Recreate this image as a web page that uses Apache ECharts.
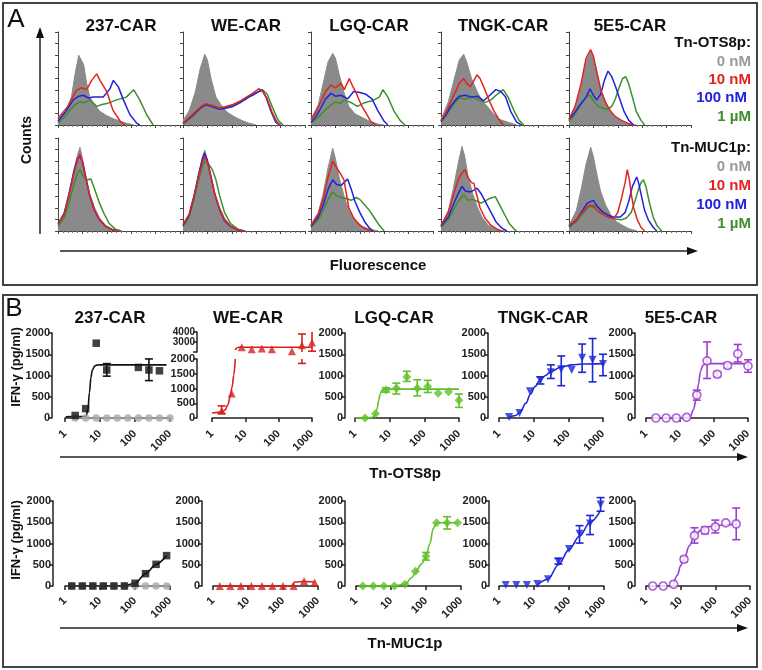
<!DOCTYPE html>
<html><head><meta charset="utf-8">
<script src="https://cdn.jsdelivr.net/npm/echarts@6/dist/echarts.min.js"></script>
<style>html,body{margin:0;padding:0;background:#fff}#c{width:762px;height:670px}</style>
</head><body><div id="c"></div>
<script>
// ---------- Panel A: flow histograms (x: % of axis width, y: % of axis height) ----------
const carNames = ['237-CAR','WE-CAR','LGQ-CAR','TNGK-CAR','5E5-CAR'];
const legendLabels = ['0 nM','10 nM','100 nM','1 µM'];
// each list: [0 nM (gray fill), 10 nM, 100 nM, 1 µM]
const histOTS_237 = [
 [[0,5],[7,16],[11,30],[14,55],[17,75],[18,76],[21,65],[23.5,45],[26,30],[30,22],[34,15],[40,10],[45,7],[51,4],[56,2],[62,0]],
 [[0,7],[8,20],[12,30],[15,37],[19,40],[23.5,38],[27.6,48],[31.7,55],[34.4,48],[40,36],[45,16],[51,4],[55,0]],
 [[0,4],[6,14],[12.6,27],[17,31],[20.8,32],[25,29],[29,30],[37,30],[42.6,39],[45.4,48],[49.5,41],[53.6,27],[59,11],[64.5,2],[67,0]],
 [[0,2],[5,8],[9.8,16],[14,22],[18,25],[22,24],[26,27],[31.7,20],[36,22],[40,23],[48,27],[56,30],[62,38],[67,27],[72.7,11],[78,0]]
];
const histOTS_WE = [
 [[0,5],[5,15],[10,35],[14,60],[17.8,76],[20,70],[23,50],[27,30],[31,22],[36,14],[42,9],[48,5],[54,2],[60,0]],
 [[0,2],[5,8],[10,14],[15,20],[19,23],[25,20],[30,18],[35,20],[41,22],[47,26],[52,30],[57,34],[62,39],[65,37],[69,28],[73,14],[77,3],[80,0]],
 [[0,2],[5,7],[10,13],[15,19],[19,22],[25,19],[30,17],[35,18],[41,20],[47,24],[52,29],[57,32],[62,36],[65,37],[68,30],[72,15],[76,3],[79,0]],
 [[0,1],[5,6],[10,12],[15,19],[19,22],[25,21],[30,18],[35,19],[41,21],[47,25],[52,28],[57,33],[62,36],[65,38],[69,33],[73,20],[78,5],[82,0]]
];
const histOTS_LGQ = [
 [[0,6],[6,22],[10,45],[14,68],[17.8,77],[20,72],[23,55],[27,35],[31,20],[36,12],[42,8],[48,4],[55,1],[60,0]],
 [[0,6],[4,14],[8,25],[12,36],[16.4,43],[20,40],[24.6,45],[27.3,38],[31.4,50],[34,42],[36.9,35],[41,22],[45,13],[49,4],[53,0]],
 [[0,3],[4,9],[8,18],[12,28],[16.4,34],[20,31],[24.6,32],[30,28],[35,36],[40,35],[45,33],[50,28],[55,15],[60,4],[63,0]],
 [[0,2],[5,7],[10,14],[15,20],[20,25],[24,23],[27,27],[33,24],[38,20],[44,24],[50,26],[56,30],[59,38],[63,30],[68,15],[73,5],[77,0]]
];
const histOTS_TNGK = [
 [[0,6],[6,25],[11,50],[15,70],[18.6,76],[21,68],[25,50],[30,35],[34,25],[38,20],[43,12],[48,6],[55,3],[62,0]],
 [[0,5],[4,13],[8,25],[12,36],[15,45],[18.6,50],[21,45],[24,41],[27,48],[29.5,54],[32,50],[35,41],[39,28],[43,16],[47,7],[51,0]],
 [[0,4],[4,11],[8,20],[12,27],[15,31],[20,32],[25,30],[30,31],[35,26],[40,32],[45,38],[49,36],[53,30],[57,15],[62,3],[66,0]],
 [[0,3],[4,10],[8,18],[12,25],[15,29],[20,28],[26,30],[31,27],[36,24],[41,27],[46,33],[51,38],[55,30],[60,15],[64,5],[68,0]]
];
const histOTS_5E5 = [
 [[0,5],[5,18],[10,42],[14,68],[17.8,79],[20,72],[23,55],[26,38],[30,25],[34,14],[38,8],[43,4],[50,1],[55,0]],
 [[0,6],[5,20],[10,45],[14,72],[17.8,81],[20,74],[23,56],[26,38],[30,24],[34,15],[38,9],[43,5],[48,2],[52,0]],
 [[0,6],[4,12],[8,20],[11,25],[14,30],[17.2,39],[20,32],[22.7,27],[26,33],[29,48],[32,58],[35,52],[38,42],[41,30],[45,15],[49,5],[53,0]],
 [[0,4],[4,10],[8,18],[11,24],[14,30],[17.2,32],[20,26],[24,20],[28,18],[32,17],[35,20],[38,28],[41,40],[44,50],[46.5,52],[49,44],[52,30],[55,15],[59,5],[62,0]]
];
const histMUC_237 = [
 [[0,6],[5,18],[9,40],[13,65],[16,82],[18,90],[20,78],[23,58],[26,40],[30,25],[34,14],[39,6],[45,2],[52,0]],
 [[0,7],[5,18],[9,38],[13,62],[16,76],[18,83],[20,74],[23,55],[26,38],[30,22],[34,12],[39,5],[45,1],[50,0]],
 [[0,8],[5,19],[9,40],[13,64],[16,78],[18,80],[20,75],[23,56],[26,38],[30,22],[34,12],[39,5],[45,1],[50,0]],
 [[0,5],[5,14],[9,30],[13,50],[16,62],[18,66],[21,58],[24,55],[27,56],[30,45],[34,30],[38,18],[42,8],[47,2],[52,0]]
];
const histMUC_WE = [
 [[0,5],[5,17],[9,38],[13,62],[16,80],[17.8,87],[20,76],[23,58],[26,40],[30,25],[34,14],[39,6],[45,2],[52,0]],
 [[0,7],[5,18],[9,38],[13,60],[16,74],[17.8,80],[20,74],[23,58],[26,40],[30,24],[34,12],[39,5],[45,1],[50,0]],
 [[0,6],[5,17],[9,37],[13,62],[16,78],[17.8,84],[20,76],[23,58],[26,40],[30,23],[34,11],[39,5],[45,1],[50,0]],
 [[0,5],[5,15],[9,34],[13,56],[16,70],[18,75],[21,72],[24,66],[27,55],[30,38],[34,20],[39,8],[45,2],[50,0]]
];
const histMUC_LGQ = [
 [[0,7],[6,20],[10,40],[14,68],[17.8,89],[20,78],[23,58],[27,38],[31,22],[36,12],[42,5],[48,2],[55,0]],
 [[0,6],[6,18],[10,35],[14,58],[17.8,75],[21,68],[24,62],[27,55],[29,40],[31,25],[35,14],[40,6],[45,2],[50,0]],
 [[0,5],[6,15],[10,28],[14,45],[17.8,55],[21,50],[24.6,49],[27,52],[30,56],[33,45],[36,32],[40,20],[44,10],[48,3],[51,0]],
 [[0,4],[6,12],[10,22],[14,34],[17.8,42],[21,38],[25,36],[29,35],[33,33],[37,36],[40,34],[44,28],[48,22],[52,14],[56,6],[60,0]]
];
const histMUC_TNGK = [
 [[0,6],[6,22],[10,45],[14,72],[17.2,91],[19.5,80],[22,60],[26,40],[30,25],[34,14],[39,6],[45,2],[52,0]],
 [[0,6],[6,20],[10,38],[14,55],[17,62],[19.5,66],[22,58],[25,52],[27,51],[29,40],[32,25],[36,14],[41,6],[46,2],[49,0]],
 [[0,5],[6,15],[10,28],[14,40],[17.2,48],[20,43],[24,42],[27,44],[29.5,46],[33,40],[37,30],[41,20],[45,10],[50,3],[54,0]],
 [[0,4],[6,12],[10,22],[14,32],[18.6,39],[22,33],[26,34],[29.5,32],[33,30],[37,33],[40,35],[44.5,37],[48,28],[52,18],[56,8],[60,2],[62,0]]
];
const histMUC_5E5 = [
 [[0,6],[6,22],[10,45],[14,72],[17.8,90],[20,80],[23,60],[26,42],[30,28],[34,18],[39,10],[44,6],[50,2],[56,0]],
 [[0,6],[6,12],[11,20],[15,26],[17.2,28],[21,25],[25,20],[30,16],[34,14],[37,14],[40,20],[43,35],[46,52],[47.8,66],[49.5,55],[51,40],[53,25],[56,12],[59,4],[62,0]],
 [[0,5],[6,12],[11,22],[15,30],[19.9,33],[23,27],[27,21],[32,17],[36,15],[42,15],[46,20],[49,32],[52,48],[55.5,58],[57,52],[59,40],[62,22],[65,12],[69,4],[72,0]],
 [[0,4],[6,10],[11,18],[15,24],[19.9,28],[24,25],[28,20],[33,16],[38,13],[43,12],[47,14],[51,20],[54,32],[57,45],[59,52],[61,55],[63,48],[66,30],[69,15],[72,6],[76,0]]
];

// ---------- Panel B: IFN-γ (pg/ml) vs peptide concentration ----------
const dosesOTS = [1.95,3.9,7.8,15.6,31.25,62.5,125,250,500,1000];
const dosesMUC = [1.56,3.125,6.25,12.5,25,50,100,200,400,800];

const ifnOTS_237 = [60,220,1760,1130,null,null,1190,1130,1110,null];
const loOTS_237  = [null,null,null,985,null,null,null,880,null,null];
const hiOTS_237  = [null,null,null,1280,null,null,null,1390,null,null];
const ctrlOTS_237 = [0,0,0,0,0,0,0,0,0,0];
const fitX_OTS_237 = [1.05,4,4.5,5,5.5,6,7,8,10,800];
const fitY_OTS_237 = [30,40,200,600,950,1120,1220,1245,1250,1250];

const ifnOTS_WE = [250,830,2480,2280,2360,2280,null,2080,2680,2960];
const loOTS_WE  = [150,null,null,null,null,null,null,null,1850,2080];
const hiOTS_WE  = [410,null,null,null,null,null,null,null,3800,4080];
const fitX_OTS_WE_low = [1,2,2.5,3,3.5,4,4.5,5];
const fitY_OTS_WE_low = [170,200,280,450,720,1050,1450,2000];
const fitX_OTS_WE_up = [5,5.5,6.5,1000];
const fitY_OTS_WE_up = [2200,2400,2480,2480];

const ifnOTS_LGQ = [0,100,660,700,965,700,740,580,620,420];
const loOTS_LGQ  = [null,null,610,565,860,520,600,null,null,250];
const hiOTS_LGQ  = [null,null,710,820,1100,900,885,null,null,565];
const fitX_OTS_LGQ = [1,3,3.8,4.3,4.8,5.3,6,7,1000];
const fitY_OTS_LGQ = [0,10,60,200,400,560,650,680,680];

const ifnOTS_TNGK = [25,120,630,890,1075,1150,1130,1420,1370,1270];
const loOTS_TNGK  = [null,null,null,800,930,760,null,1075,850,995];
const hiOTS_TNGK  = [null,null,null,970,1250,1460,null,1740,1870,1500];
const fitX_OTS_TNGK = [1.95,3,4,6,8,11,15,22,31,62,125,250,1000];
const fitY_OTS_TNGK = [10,60,130,350,560,740,890,1000,1090,1200,1250,1270,1280];

const ifnOTS_5E5 = [0,0,0,15,540,1345,1030,1235,1510,1225];
const loOTS_5E5  = [null,null,null,null,420,930,970,1170,1320,1075];
const hiOTS_5E5  = [null,null,null,null,655,1790,1090,1290,1730,1370];
const fitX_OTS_5E5 = [1.92,15,20,25,30,35,40,47,60,1000];
const fitY_OTS_5E5 = [0,5,30,200,450,800,1100,1240,1280,1280];

const ifnMUC_237 = [0,0,0,0,0,0,65,290,510,715];
const ctrlMUC_237 = [0,0,0,0,0,0,0,0,0,0];

const ifnMUC_WE = [0,0,0,0,0,0,0,0,115,85];
const fitX_MUC_WE = [1.56,170,220,400,800];
const fitY_MUC_WE = [0,0,95,105,95];

const ifnMUC_LGQ = [0,0,0,0,40,350,700,1490,1490,1490];
const loMUC_LGQ  = [null,null,null,null,null,null,610,null,1340,null];
const hiMUC_LGQ  = [null,null,null,null,null,null,790,null,1630,null];
const fitX_MUC_LGQ = [1.56,12.5,25,40,50,75,100,130,160,200,800];
const fitY_MUC_LGQ = [0,5,40,200,330,520,700,1000,1350,1490,1490];

const ifnMUC_TNGK = [25,25,25,45,160,575,870,1230,1470,1920];
const loMUC_TNGK  = [null,null,null,null,null,515,null,1010,1210,1760];
const hiMUC_TNGK  = [null,null,null,null,null,650,null,1420,1660,2080];
const fitX_MUC_TNGK = [12.5,25,50,100,200,400,800];
const fitY_MUC_TNGK = [25,160,500,855,1170,1500,1780];

const ifnMUC_5E5 = [0,0,40,630,1185,1310,1390,1485,1460,null];
const loMUC_5E5  = [null,null,null,570,1010,1230,1250,null,1090,null];
const hiMUC_5E5  = [null,null,null,690,1370,1390,1550,null,1835,null];
const fitX_MUC_5E5 = [6.25,8,10,12.5,18,25,40,60,100,200,400];
const fitY_MUC_5E5 = [30,250,480,640,950,1180,1320,1390,1420,1440,1450];

// ---------- build ----------
const FONT = '"Liberation Sans", Arial, Helvetica, sans-serif';
const AX = '#222';
const grids = [], xAxes = [], yAxes = [], series = [];
function addGrid(g, xa, ya) {
  grids.push(g); const i = grids.length - 1;
  xa.gridIndex = i; ya.gridIndex = i; xAxes.push(xa); yAxes.push(ya); return i;
}

const histColors = ['#8a8a8a', '#e3231e', '#2121df', '#3d8f2e'];
const histLeft = [58, 183, 311, 441, 569];
const histTop = [32, 138];
function histPanel(col, row, curves) {
  const i = addGrid({left: histLeft[col], top: histTop[row], width: 122, height: 93},
    {type: 'value', min: 0, max: 100, interval: 20,
     axisLine: {lineStyle: {color: '#444', width: 1}},
     axisTick: {show: true, length: 3, lineStyle: {color: '#444'}},
     minorTick: {show: true, splitNumber: 5, length: 2, lineStyle: {color: '#777'}},
     axisLabel: {show: false}, splitLine: {show: false}},
    {type: 'value', min: 0, max: 100, interval: 12.5,
     axisLine: {show: true, lineStyle: {color: '#444', width: 1}},
     axisTick: {show: true, length: 3, lineStyle: {color: '#444'}},
     axisLabel: {show: false}, splitLine: {show: false}});
  [0, 3, 2, 1].forEach((k, n) => {
    series.push({type: 'line', xAxisIndex: i, yAxisIndex: i, data: curves[k], symbol: 'none',
      silent: true, animation: false, z: 2 + n,
      lineStyle: {color: histColors[k], width: k ? 1.5 : 1},
      areaStyle: k === 0 ? {color: '#8a8a8a', opacity: 1} : undefined});
  });
}
const histOTS = [histOTS_237, histOTS_WE, histOTS_LGQ, histOTS_TNGK, histOTS_5E5];
const histMUC = [histMUC_237, histMUC_WE, histMUC_LGQ, histMUC_TNGK, histMUC_5E5];
histOTS.forEach((c, k) => histPanel(k, 0, c));
histMUC.forEach((c, k) => histPanel(k, 1, c));

function doseGrid(xL, xR, top, height, yAxisX, xAxisY, ymin, ymax, interval, opt) {
  opt = opt || {};
  return addGrid({left: xL, top: top, width: xR - xL, height: height},
    {type: 'log', logBase: 10, min: 1, max: 1000, offset: xAxisY - (top + height), show: opt.hideX ? false : true,
     axisLine: {lineStyle: {color: AX, width: 1.5}},
     axisTick: {show: true, length: 4, lineStyle: {color: AX, width: 1.5}},
     minorTick: {show: false},
     axisLabel: {rotate: 45, margin: 4, color: AX, fontWeight: 'bold', fontSize: 11, fontFamily: FONT,
       formatter: v => String(Math.round(v))},
     splitLine: {show: false}, minorSplitLine: {show: false}},
    {type: 'value', min: ymin, max: ymax, interval: interval, offset: xL - yAxisX,
     axisLine: {show: true, lineStyle: {color: AX, width: 1.5}},
     axisTick: {show: true, length: 4, lineStyle: {color: AX, width: 1.5}},
     axisLabel: {margin: 2, color: AX, fontWeight: 'bold', fontSize: opt.labelSize || 11, fontFamily: FONT,
       lineHeight: opt.labelLH || undefined,
       showMaxLabel: true, showMinLabel: true, hideOverlap: false,
       formatter: opt.labelFmt || (v => String(v))},
     splitLine: {show: false}});
}
function pts(xs, ys, pred) {
  const out = [];
  xs.forEach((x, k) => { if (ys[k] != null && (!pred || pred(ys[k]))) out.push([x, ys[k]]); });
  return out;
}
function scatter(i, xs, ys, sym, color, size, extra, pred) {
  const s = Object.assign({type: 'scatter', xAxisIndex: i, yAxisIndex: i, data: pts(xs, ys, pred), symbol: sym,
    symbolSize: size, itemStyle: {color: color}, z: 6, animation: false, silent: true}, extra || {});
  series.push(s);
}
function curve(i, xs, ys, color, smooth) {
  series.push({type: 'line', xAxisIndex: i, yAxisIndex: i, data: pts(xs, ys), symbol: 'none',
    smooth: smooth === undefined ? 0.35 : smooth, smoothMonotone: 'x',
    lineStyle: {color: color, width: 1.6}, z: 5, animation: false, silent: true});
}
function errs(i, xs, lo, hi, color, ymin, ymax) {
  const data = [];
  xs.forEach((x, k) => { if (lo[k] != null) data.push([x, lo[k], hi[k]]); });
  series.push({type: 'custom', xAxisIndex: i, yAxisIndex: i, data: data, z: 4, animation: false, silent: true,
    encode: {x: 0, y: [1, 2]},
    renderItem: function (params, api) {
      const x = api.value(0), l = api.value(1), h = api.value(2);
      const cl = Math.max(l, ymin), ch = Math.min(h, ymax);
      if (ch <= cl) return null;
      const p1 = api.coord([x, cl]), p2 = api.coord([x, ch]);
      const st = {stroke: color, lineWidth: 1.6};
      const ch2 = [{type: 'line', shape: {x1: p1[0], y1: p1[1], x2: p2[0], y2: p2[1]}, style: st}];
      if (l >= ymin) ch2.push({type: 'line', shape: {x1: p1[0] - 4, y1: p1[1], x2: p1[0] + 4, y2: p1[1]}, style: st});
      if (h <= ymax) ch2.push({type: 'line', shape: {x1: p2[0] - 4, y1: p2[1], x2: p2[0] + 4, y2: p2[1]}, style: st});
      return {type: 'group', children: ch2};
    }});
}

const cBlack = '#111', cGray = '#a8a8a8', cRed = '#d8201e', cGreen = '#62c02a', cBlue = '#1c27d6', cPurple = '#9b3fd0';
const openCircle = {itemStyle: {color: '#fff', borderColor: cPurple, borderWidth: 1.7}};
// top row (Tn-OTS8p)
let g;
g = doseGrid(65, 170, 333, 85, 52, 428, 0, 2000, 500);
curve(g, dosesOTS, ctrlOTS_237, cGray, 0);
scatter(g, dosesOTS, ctrlOTS_237, 'circle', cGray, 7.5);
curve(g, fitX_OTS_237, fitY_OTS_237, cBlack);
errs(g, dosesOTS, loOTS_237, hiOTS_237, cBlack, 0, 2000);
scatter(g, dosesOTS, ifnOTS_237, 'rect', cBlack, 7.5);

g = doseGrid(212, 312, 359, 59, 197, 428, 0, 2000, 500);
curve(g, fitX_OTS_WE_low, fitY_OTS_WE_low, cRed);
errs(g, dosesOTS, loOTS_WE, hiOTS_WE, cRed, 0, 2000);
scatter(g, dosesOTS, ifnOTS_WE, 'triangle', cRed, 8, null, v => v < 2000);
g = doseGrid(212, 312, 332, 20, 197, 428, 2000, 4000, 1000, {hideX: true, labelSize: 10, labelLH: 8, labelFmt: v => v === 2000 ? '' : String(v)});
curve(g, fitX_OTS_WE_up, fitY_OTS_WE_up, cRed);
errs(g, dosesOTS, loOTS_WE, hiOTS_WE, cRed, 2000, 4000);
scatter(g, dosesOTS, ifnOTS_WE, 'triangle', cRed, 8, null, v => v >= 2000);

g = doseGrid(355, 459, 333, 85, 345, 428, 0, 2000, 500);
curve(g, fitX_OTS_LGQ, fitY_OTS_LGQ, cGreen);
errs(g, dosesOTS, loOTS_LGQ, hiOTS_LGQ, cGreen, 0, 2000);
scatter(g, dosesOTS, ifnOTS_LGQ, 'diamond', cGreen, 9);

g = doseGrid(499, 603, 333, 85, 488, 428, 0, 2000, 500);
curve(g, fitX_OTS_TNGK, fitY_OTS_TNGK, cBlue);
errs(g, dosesOTS, loOTS_TNGK, hiOTS_TNGK, cBlue, 0, 2000);
scatter(g, dosesOTS, ifnOTS_TNGK, 'triangle', cBlue, 8, {symbolRotate: 180});

g = doseGrid(646, 748, 333, 85, 635, 428, 0, 2000, 500);
curve(g, fitX_OTS_5E5, fitY_OTS_5E5, cPurple);
errs(g, dosesOTS, loOTS_5E5, hiOTS_5E5, cPurple, 0, 2000);
scatter(g, dosesOTS, ifnOTS_5E5, 'circle', '#fff', 8, openCircle);

// bottom row (Tn-MUC1p)
g = doseGrid(65, 170, 501, 85, 53, 595, 0, 2000, 500);
curve(g, dosesMUC, ctrlMUC_237, cGray, 0);
scatter(g, dosesMUC, ctrlMUC_237, 'circle', cGray, 7.5);
curve(g, dosesMUC, ifnMUC_237, cBlack, 0.3);
scatter(g, dosesMUC, ifnMUC_237, 'rect', cBlack, 7.5);

g = doseGrid(213, 318, 501, 85, 202, 595, 0, 2000, 500);
curve(g, fitX_MUC_WE, fitY_MUC_WE, cRed, 0.3);
scatter(g, dosesMUC, ifnMUC_WE, 'triangle', cRed, 8);

g = doseGrid(356, 461, 501, 85, 345, 595, 0, 2000, 500);
curve(g, fitX_MUC_LGQ, fitY_MUC_LGQ, cGreen);
errs(g, dosesMUC, loMUC_LGQ, hiMUC_LGQ, cGreen, 0, 2000);
scatter(g, dosesMUC, ifnMUC_LGQ, 'diamond', cGreen, 9);

g = doseGrid(499, 604, 501, 85, 489, 595, 0, 2000, 500);
curve(g, fitX_MUC_TNGK, fitY_MUC_TNGK, cBlue);
errs(g, dosesMUC, loMUC_TNGK, hiMUC_TNGK, cBlue, 0, 2100);
scatter(g, dosesMUC, ifnMUC_TNGK, 'triangle', cBlue, 8, {symbolRotate: 180});

g = doseGrid(646, 750, 501, 85, 635, 595, 0, 2000, 500);
curve(g, fitX_MUC_5E5, fitY_MUC_5E5, cPurple);
errs(g, dosesMUC, loMUC_5E5, hiMUC_5E5, cPurple, 0, 2000);
scatter(g, dosesMUC, ifnMUC_5E5, 'circle', '#fff', 8, openCircle);

// ---------- graphics: boxes, labels, arrows ----------
const gfx = [];
function txt(t, x, y, size, color, align, weight, rot) {
  gfx.push({type: 'text', x: x, y: y, rotation: rot || 0, silent: true, z: 10,
    style: {text: t, fill: color || '#111', align: align || 'center', verticalAlign: 'middle',
      font: (weight || 'bold') + ' ' + size + 'px ' + FONT}});
}
function line(x1, y1, x2, y2, w) {
  gfx.push({type: 'line', silent: true, z: 10, shape: {x1: x1, y1: y1, x2: x2, y2: y2}, style: {stroke: '#222', lineWidth: w || 1.5}});
}
function head(pts) {
  gfx.push({type: 'polygon', silent: true, z: 10, shape: {points: pts}, style: {fill: '#111'}});
}
gfx.push({type: 'rect', silent: true, shape: {x: 3, y: 3, width: 754, height: 282}, style: {fill: 'none', stroke: '#444', lineWidth: 2}});
gfx.push({type: 'rect', silent: true, shape: {x: 3, y: 295, width: 754, height: 372}, style: {fill: 'none', stroke: '#444', lineWidth: 2}});
txt('A', 16, 20, 26, '#111', 'center', 'normal');
txt('B', 14, 309, 26, '#111', 'center', 'normal');
const titleA = [121, 246, 369, 503, 630];
carNames.forEach((n, k) => txt(n, titleA[k], 26, 17, '#111'));
const titleB = [110, 248, 394, 543, 681];
carNames.forEach((n, k) => txt(n, titleB[k], 318, 17, '#111'));
const legCol = ['#111', '#9a9a9a', '#e3231e', '#2121df', '#3d8f2e'];
const legOTS = ['Tn-OTS8p:'].concat(legendLabels);
const legMUC = ['Tn-MUC1p:'].concat(legendLabels);
const legY1 = [43, 62, 80, 98, 117], legY2 = [148, 167, 186, 205, 224];
legOTS.forEach((t, k) => txt(t, k === 3 ? 747 : 751, legY1[k], 15, legCol[k], 'right'));
legMUC.forEach((t, k) => txt(t, k === 3 ? 747 : 751, legY2[k], 15, legCol[k], 'right'));
txt('Counts', 27, 140, 14, '#111', 'center', 'bold', Math.PI / 2);
txt('Fluorescence', 378, 266, 15, '#111');
line(40, 234, 40, 36); head([[40, 27], [36, 38], [44, 38]]);
line(60, 251, 688, 251); head([[698, 251], [687, 247], [687, 255]]);
line(60, 457, 738, 457); head([[748, 457], [737, 453], [737, 461]]);
line(60, 628, 738, 628); head([[748, 628], [737, 624], [737, 632]]);
txt('Tn-OTS8p', 405, 474, 15, '#111');
txt('Tn-MUC1p', 405, 644, 15, '#111');
txt('IFN-γ (pg/ml)', 16, 367, 13, '#111', 'center', 'bold', Math.PI / 2);
txt('IFN-γ (pg/ml)', 16, 540, 13, '#111', 'center', 'bold', Math.PI / 2);

const chart = echarts.init(document.getElementById('c'), null, {renderer: 'canvas'});
chart.setOption({
  backgroundColor: '#fff', animation: false,
  grid: grids, xAxis: xAxes, yAxis: yAxes, series: series, graphic: gfx
});
</script></body></html>
